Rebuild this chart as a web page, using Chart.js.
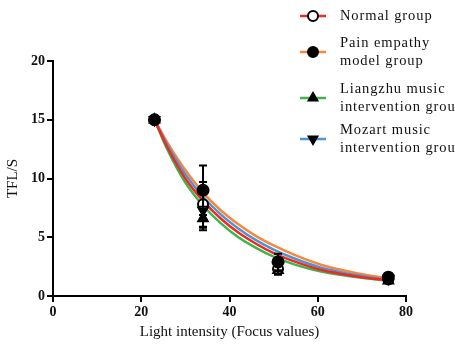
<!DOCTYPE html>
<html>
<head>
<meta charset="utf-8">
<script src="https://cdn.jsdelivr.net/npm/chart.js@4.4.1/dist/chart.umd.min.js"></script>
<style>
  body { margin: 0; background: #fff; }
  #wrap { width: 455px; height: 345px; }
</style>
</head>
<body>
<div id="wrap"><canvas id="tfl"></canvas></div>
<script>
'use strict';

// measured points (light intensity vs TFL/S)
var intensity = [23, 34, 51, 76];
var normalVals = [15, 7.8, 2.3, 1.4];
var painVals = [15, 9.0, 2.9, 1.6];
var liangzhuVals = [15, 6.6, 2.2, 1.3];
var mozartVals = [15, 7.3, 2.6, 1.5];

// error bars (+/-)
var normalErr = [0, 1.9, 0.4, 0.2];
var painErr = [0, 2.1, 0.7, 0.3];
var liangzhuErr = [0, 1.0, 0.4, 0.2];
var mozartErr = [0, 1.5, 0.5, 0.2];

// fitted curves
var curveX = [23, 26, 30, 34, 38, 42, 46, 50, 55, 60, 65, 70, 76];
var painCurve = [15, 13.0, 10.7, 8.8, 7.3, 6.1, 5.1, 4.3, 3.45, 2.75, 2.25, 1.85, 1.5];
var mozartCurve = [15, 12.8, 10.35, 8.45, 6.95, 5.75, 4.75, 3.95, 3.15, 2.5, 2.05, 1.7, 1.35];
var normalCurve = [15, 12.6, 10.0, 8.1, 6.6, 5.4, 4.45, 3.65, 2.9, 2.3, 1.9, 1.6, 1.35];
var liangzhuCurve = [15, 12.4, 9.65, 7.7, 6.2, 5.0, 4.1, 3.35, 2.65, 2.15, 1.8, 1.55, 1.3];

var xTicks = [0, 20, 40, 60, 80];
var yTicks = [0, 5, 10, 15, 20];

var RED = '#ec2b24';
var ORANGE = '#f7873c';
var GREEN = '#3db54a';
var BLUE = '#4d94d6';

function pts(xs, ys) {
  var out = [];
  for (var i = 0; i < xs.length; i++) {
    out.push({x: xs[i], y: ys[i]});
  }
  return out;
}

function markerSet(label, vals, err, style, fill, rot, r) {
  return {
    label: label,
    data: pts(intensity, vals),
    err: err,
    showLine: false,
    pointStyle: style,
    pointRadius: r,
    pointRotation: rot || 0,
    pointBackgroundColor: fill,
    pointBorderColor: '#000',
    pointBorderWidth: 2
  };
}

function curveSet(label, vals, color) {
  return {
    label: label,
    data: pts(curveX, vals),
    showLine: true,
    borderColor: color,
    borderWidth: 2.5,
    pointRadius: 0,
    cubicInterpolationMode: 'monotone',
    fill: false
  };
}

var serif = "'Liberation Serif', 'DejaVu Serif', serif";

var legendItems = [
  {lines: ['Normal group'], color: RED, style: 'circle', fill: '#fff', rot: 0, y: 16},
  {lines: ['Pain empathy', 'model group'], color: ORANGE, style: 'circle', fill: '#000', rot: 0, y: 52},
  {lines: ['Liangzhu music', 'intervention group'], color: GREEN, style: 'triangle', fill: '#000', rot: 0, y: 98},
  {lines: ['Mozart music', 'intervention group'], color: BLUE, style: 'triangle', fill: '#000', rot: 180, y: 139}
];

// error bars drawn through the x/y scales
var errorBars = {
  id: 'errorBars',
  afterDatasetsDraw: function(chart) {
    var ctx = chart.ctx;
    var xs = chart.scales.x;
    var ys = chart.scales.y;
    ctx.save();
    ctx.strokeStyle = '#000';
    ctx.lineWidth = 2;
    chart.data.datasets.forEach(function(ds) {
      if (!ds.err) return;
      ds.data.forEach(function(p, i) {
        var e = ds.err[i];
        if (!e) return;
        var px = xs.getPixelForValue(p.x);
        var top = ys.getPixelForValue(p.y + e);
        var bot = ys.getPixelForValue(p.y - e);
        ctx.beginPath();
        ctx.moveTo(px, top); ctx.lineTo(px, bot);
        ctx.moveTo(px - 4, top); ctx.lineTo(px + 4, top);
        ctx.moveTo(px - 4, bot); ctx.lineTo(px + 4, bot);
        ctx.stroke();
      });
    });
    ctx.restore();
  }
};

// legend at top right, two-line labels
var sideLegend = {
  id: 'sideLegend',
  afterDraw: function(chart) {
    var ctx = chart.ctx;
    ctx.save();
    legendItems.forEach(function(it) {
      ctx.strokeStyle = it.color;
      ctx.lineWidth = 2.5;
      ctx.beginPath();
      ctx.moveTo(300, it.y); ctx.lineTo(326, it.y);
      ctx.stroke();
      ctx.fillStyle = it.fill;
      ctx.strokeStyle = '#000';
      ctx.lineWidth = 2;
      Chart.helpers.drawPoint(ctx, {
        pointStyle: it.style, radius: 5, rotation: it.rot,
        borderWidth: 2
      }, 313, it.y);
      var y0 = it.lines.length == 1 ? it.y : it.y - 9;
      ctx.font = '14.5px ' + serif;
      ctx.letterSpacing = '0.9px';
      ctx.textBaseline = 'middle';
      ctx.fillStyle = '#111';
      it.lines.forEach(function(t, k) {
        ctx.fillText(t, 340, y0 + k * 18);
      });
    });
    ctx.restore();
  }
};

var ctx = document.getElementById('tfl').getContext('2d');
var chart = new Chart(ctx, {
  type: 'scatter',
  data: {
    datasets: [
      markerSet('Pain empathy model group', painVals, painErr, 'circle', '#000', 0, 5.5),
      markerSet('Normal group', normalVals, normalErr, 'circle', '#fff', 0, 5),
      markerSet('Mozart music intervention group', mozartVals, mozartErr, 'triangle', '#000', 180, 5.5),
      markerSet('Liangzhu music intervention group', liangzhuVals, liangzhuErr, 'triangle', '#000', 0, 5.5),
      curveSet('Normal fit', normalCurve, RED),
      curveSet('Mozart fit', mozartCurve, BLUE),
      curveSet('Pain fit', painCurve, ORANGE),
      curveSet('Liangzhu fit', liangzhuCurve, GREEN)
    ]
  },
  options: {
    responsive: true,
    maintainAspectRatio: false,
    animation: false,
    layout: { padding: { left: 0, top: 61, right: 49, bottom: 0 } },
    plugins: {
      legend: { display: false },
      tooltip: { enabled: false }
    },
    scales: {
      x: {
        type: 'linear',
        min: 0, max: 80,
        afterFit: function(s) { s.height = 49; },
        afterBuildTicks: function(s) { s.ticks = xTicks.map(function(v) { return {value: v}; }); },
        grid: { display: true, drawOnChartArea: false, drawTicks: true, tickLength: 6, color: '#000', lineWidth: 2 },
        border: { display: true, color: '#000', width: 2 },
        ticks: { color: '#111', padding: 2, font: { family: serif, size: 14, weight: 'bold' } },
        title: { display: true, text: 'Light intensity (Focus values)', color: '#111', padding: { top: 2 }, font: { family: serif, size: 15 } }
      },
      y: {
        type: 'linear',
        min: 0, max: 20,
        afterFit: function(s) { s.width = 53; },
        afterBuildTicks: function(s) { s.ticks = yTicks.map(function(v) { return {value: v}; }); },
        grid: { display: true, drawOnChartArea: false, drawTicks: true, tickLength: 6, color: '#000', lineWidth: 2 },
        border: { display: true, color: '#000', width: 2 },
        ticks: { color: '#111', padding: 2, font: { family: serif, size: 14, weight: 'bold' } },
        title: { display: true, text: 'TFL/S', color: '#111', padding: { bottom: 8 }, font: { family: serif, size: 15 } }
      }
    }
  },
  plugins: [errorBars, sideLegend]
});
</script>
</body>
</html>
